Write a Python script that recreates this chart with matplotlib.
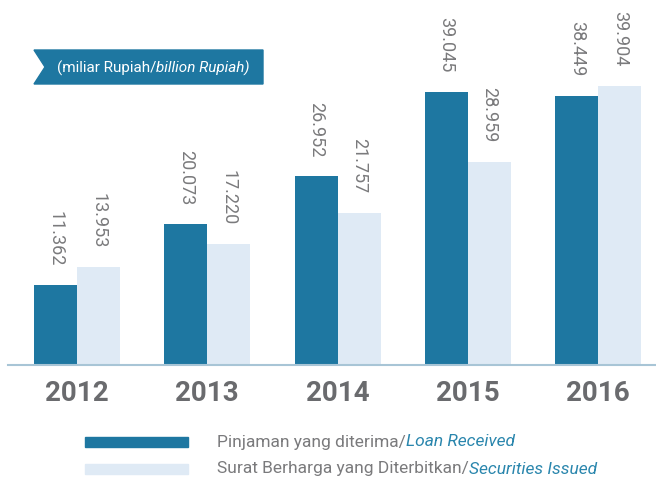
import matplotlib
matplotlib.use('Agg')
import matplotlib.pyplot as plt
import numpy as np
from matplotlib.patches import Polygon, Rectangle
from matplotlib.text import Annotation

years = ['2012', '2013', '2014', '2015', '2016']
loan = [11362, 20073, 26952, 39045, 38449]
securities = [13953, 17220, 21757, 28959, 39904]
legend_id = ['Pinjaman yang diterima/', 'Surat Berharga yang Diterbitkan/']
legend_en = ['Loan Received', 'Securities Issued']

dark = '#1e77a1'
light = '#dfeaf5'
grey = '#7a7a7c'
year_col = '#6a6b6e'
italic_blue = '#2a86ad'
fam = 'Roboto'

W, H = 656, 478
fig = plt.figure(figsize=(W / 100, H / 100), dpi=100)

def fx(px):
    return px / W

def fy(py):
    return 1 - py / H

ax = fig.add_axes([fx(8), fy(365), fx(648), 365 / H])
x = np.arange(len(years))
w = 0.33
ax.bar(x - w / 2, loan, w, color=dark)
ax.bar(x + w / 2, securities, w, color=light)
ax.set_xlim(-0.5296, 4.4436)
ax.set_ylim(0, 52140)

def fmt(v):
    return '{:,}'.format(v).replace(',', '.')

for xs, vals in [(x - w / 2, loan), (x + w / 2, securities)]:
    for xi, v in zip(xs, vals):
        ax.annotate(fmt(v), (xi, v), xytext=(0, 14), textcoords='offset points',
                    rotation=270, ha='center', va='bottom', fontsize=13,
                    color=grey, family=fam)

for s in ['top', 'right', 'left']:
    ax.spines[s].set_visible(False)
ax.spines['bottom'].set_color('#a8c5d6')
ax.spines['bottom'].set_linewidth(1.5)
ax.set_yticks([])
ax.set_xticks(x)
ax.set_xticklabels(years, fontsize=20, fontweight='bold', color=year_col,
                   family=fam)
ax.tick_params(axis='x', length=0, pad=11)

# unit banner
banner = Polygon([(fx(34), fy(50)), (fx(263), fy(50)), (fx(263), fy(84)),
                  (fx(34), fy(84)), (fx(45), fy(67))],
                 closed=True, transform=fig.transFigure, color=dark)
fig.patches.append(banner)
t = fig.text(fx(57), fy(68), '(miliar Rupiah/', color='white', fontsize=11,
             va='center', family=fam)
fig.add_artist(Annotation('billion Rupiah)', xy=(1, 0.5), xycoords=t,
                          va='center', color='white', fontsize=11,
                          style='italic', family=fam, annotation_clip=False))

# legend
for i, (col, y0) in enumerate([(dark, 437), (light, 464)]):
    fig.patches.append(Rectangle((fx(85), fy(y0 + 10)), fx(103), 10 / H,
                                 transform=fig.transFigure, color=col))
    a = fig.text(fx(217), fy(y0 + 5), legend_id[i], color=grey, fontsize=12.5,
                 va='center', family=fam)
    fig.add_artist(Annotation(legend_en[i], xy=(1, 0.5), xycoords=a,
                              va='center', color=italic_blue, fontsize=12.5,
                              style='italic', family=fam,
                              annotation_clip=False))

fig.savefig('out.png', dpi=100)
